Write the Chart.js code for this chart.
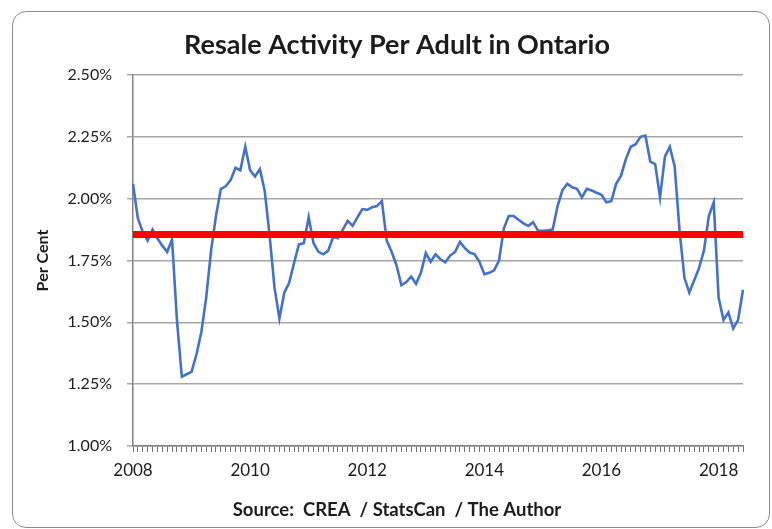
<!DOCTYPE html>
<html>
<head>
<meta charset="utf-8">
<title>Resale Activity Per Adult in Ontario</title>
<script src="https://cdn.jsdelivr.net/npm/chart.js@4.4.1/dist/chart.umd.min.js"></script>
<style>
    html, body { margin: 0; padding: 0; background: #fff; }
    #wrap { position: relative; width: 772px; height: 529px; overflow: hidden; }
    #frame {
        position: absolute; left: 12px; top: 11px; width: 758px; height: 517px;
        border: 1px solid #8c8c8c; border-radius: 14px; box-sizing: border-box;
    }
    #chart { position: absolute; left: 0; top: 0; }
</style>
</head>
<body>
<div id="wrap">
    <div id="frame"></div>
    <canvas id="chart" width="772" height="529"></canvas>
</div>
<script>
// Monthly resale activity per adult (per cent), Jan 2008 - Jun 2018
const firstYear = 2008;
const yearLabels = ['2008', '2010', '2012', '2014', '2016', '2018'];
const resaleShare = [
    2.06, 1.92, 1.865, 1.83, 1.875, 1.84, 1.81, 1.785, 1.835, 1.51, 1.28, 1.29,     // 2008
    1.30, 1.37, 1.46, 1.60, 1.79, 1.93, 2.04, 2.05, 2.075, 2.125, 2.115, 2.21,      // 2009
    2.115, 2.09, 2.12, 2.03, 1.85, 1.64, 1.515, 1.62, 1.66, 1.74, 1.815, 1.82,      // 2010
    1.925, 1.82, 1.785, 1.775, 1.79, 1.845, 1.84, 1.875, 1.91, 1.89, 1.925, 1.958,  // 2011
    1.955, 1.965, 1.97, 1.99, 1.83, 1.785, 1.73, 1.65, 1.663, 1.685, 1.656, 1.70,   // 2012
    1.78, 1.745, 1.775, 1.755, 1.743, 1.77, 1.785, 1.825, 1.80, 1.782, 1.775, 1.745,// 2013
    1.695, 1.70, 1.71, 1.75, 1.88, 1.93, 1.93, 1.915, 1.90, 1.89, 1.905, 1.87,      // 2014
    1.87, 1.872, 1.875, 1.97, 2.035, 2.06, 2.046, 2.04, 2.005, 2.04, 2.033, 2.024,  // 2015
    2.016, 1.985, 1.99, 2.06, 2.093, 2.16, 2.21, 2.22, 2.25, 2.255, 2.15, 2.14,     // 2016
    2.005, 2.17, 2.21, 2.13, 1.87, 1.68, 1.62, 1.67, 1.72, 1.79, 1.93, 1.985,       // 2017
    1.60, 1.51, 1.54, 1.475, 1.51, 1.632                                            // 2018
];
// long-run average drawn as the red reference line
const longRunAverage = 1.855;

const yMin = 1.0, yMax = 2.5, yStep = 0.25;

// month categories: "2008-01" ... "2018-06"
const months = resaleShare.map((_, i) => {
    const y = firstYear + Math.floor(i / 12);
    const m = String(i % 12 + 1).padStart(2, '0');
    return y + '-' + m;
});

const gridGray = '#a6a6a6';
const axisGray = '#808080';
const textColor = '#1c1c1c';
Chart.defaults.font.family = 'Lato, "Open Sans", sans-serif';
Chart.defaults.color = textColor;

new Chart(document.getElementById('chart'), {
    type: 'line',
    data: {
        labels: months,
        datasets: [
            {
                label: 'Average',
                data: [
                    { x: months[0], y: longRunAverage },
                    { x: months[months.length - 1], y: longRunAverage }
                ],
                borderColor: '#ff0000',
                borderWidth: 7,
                borderCapStyle: 'butt',
                pointRadius: 0,
                order: 0
            },
            {
                label: 'Resale activity per adult',
                data: resaleShare,
                borderColor: '#4472c4',
                borderWidth: 2.6,
                tension: 0,
                pointRadius: 0,
                order: 1
            }
        ]
    },
    options: {
        responsive: false,
        animation: false,
        layout: {
            padding: { left: 51, right: 29, top: 0, bottom: 0 }
        },
        plugins: {
            legend: { display: false },
            tooltip: { enabled: false },
            title: {
                display: true,
                text: 'Resale Activity Per Adult in Ontario',
                color: textColor,
                font: { size: 27, weight: 'bold' },
                padding: { top: 29, bottom: 13.6 }
            },
            subtitle: {
                display: true,
                position: 'bottom',
                text: 'Source:  CREA  / StatsCan  / The Author',
                color: textColor,
                font: { size: 18.5, weight: 'bold' },
                padding: { top: 0, bottom: 8 }
            }
        },
        scales: {
            x: {
                type: 'category',
                offset: false,
                afterFit: function(scale) { scale.height = 52.8; },
                grid: {
                    drawOnChartArea: false,
                    drawTicks: true,
                    color: axisGray,
                    tickLength: 6,
                    tickWidth: 1,
                    tickColor: '#6f6f6f'
                },
                border: { color: axisGray, width: 1.5 },
                ticks: {
                    autoSkip: false,
                    maxRotation: 0,
                    padding: 8,
                    font: { size: 17 },
                    callback: function(value, index) {
                        const label = months[index];
                        const year = label.slice(0, 4);
                        return label.endsWith('-01') && yearLabels.includes(year) ? year : '';
                    }
                }
            },
            y: {
                min: yMin,
                max: yMax,
                afterFit: function(scale) { scale.width = 82; },
                grid: {
                    color: gridGray,
                    lineWidth: 1.5,
                    tickLength: 6
                },
                border: { color: axisGray, width: 1.5 },
                ticks: {
                    stepSize: yStep,
                    padding: 15,
                    font: { size: 16 },
                    callback: function(value) {
                        return value.toFixed(2) + '%';
                    }
                },
                title: {
                    display: true,
                    text: 'Per Cent',
                    color: textColor,
                    font: { size: 16, weight: 'bold' },
                    padding: { top: -18, bottom: 0 }
                }
            }
        }
    }
});
</script>
</body>
</html>
